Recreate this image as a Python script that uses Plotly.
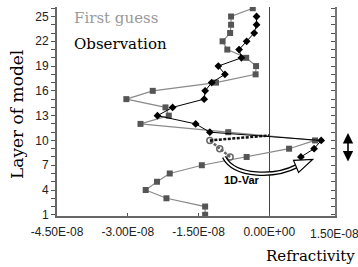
import plotly.graph_objects as go

SCALE = 1e-8

# Model layers (1 = bottom)
layers_fg = [26, 25, 24, 23, 22, 21, 20, 19, 18, 17, 16, 15, 14, 13, 12, 11, 10, 9, 8, 7, 6, 5, 4, 3, 2, 1]
first_guess = [-0.35, -0.81, -0.81, -0.83, -0.99, -0.89, -0.49, -0.28, -0.29, -1.13, -2.47, -3.03, -2.20,
               -2.13, -2.73, -0.87, 0.97, 0.42, -0.48, -1.43, -2.11, -2.38, -2.62, -2.18, -1.36, -1.36]

layers_obs = [25, 24, 23, 22, 21, 20, 19, 18, 17, 16, 15, 14, 13, 12, 11, 10, 9, 8]
observation = [-0.27, -0.27, -0.32, -0.48, -0.64, -0.59, -1.08, -0.94, -1.22, -1.36, -1.38, -2.05,
               -2.37, -1.56, -1.26, 1.10, 0.95, 0.67]

layers_ana = [8, 9, 10]
analysis = [-0.83, -1.05, -1.26]
layers_link = [10, 10.6]
link = [-1.26, 0.0]

x_tickvals = [-4.5, -3.0, -1.5, 0.0]
x_ticktext = ["-4.50E-08", "-3.00E-08", "-1.50E-08", "0.00E+00"]
x_extra_label = "1.50E-08"
y_tickvals = list(range(1, 27))
y_ticktext = [str(v) if (v - 1) % 3 == 0 else "" for v in y_tickvals]

W, H = 358, 267
L, R, T, B = 57, 23, 7, 51
PW, PH = W - L - R, H - T - B


def px(xp):
    return (xp - L) / PW


def py(yp):
    return (H - B - yp) / PH


sc = lambda arr: [v * SCALE for v in arr]

fig = go.Figure()
fig.add_trace(go.Scatter(x=sc(first_guess), y=layers_fg, mode="lines+markers",
                         line=dict(color="#8a8a8a", width=1.2),
                         marker=dict(symbol="square", size=6, color="#555555"),
                         showlegend=False))
fig.add_trace(go.Scatter(x=sc(observation), y=layers_obs, mode="lines+markers",
                         line=dict(color="#000000", width=1),
                         marker=dict(symbol="diamond", size=6, color="#000000"),
                         showlegend=False))
fig.add_trace(go.Scatter(x=sc(analysis), y=layers_ana, mode="lines+markers",
                         line=dict(color="#666666", width=2.5, dash="3px,1.5px"),
                         marker=dict(symbol="circle-open", size=6, color="#666666", line=dict(width=1.5)),
                         showlegend=False))
fig.add_trace(go.Scatter(x=sc(link), y=layers_link, mode="lines",
                         line=dict(color="#111111", width=2.5, dash="3px,1.5px"),
                         showlegend=False))
fig.add_trace(go.Scatter(x=[None], y=[None], yaxis="y2", showlegend=False))

yr = [0.855, 26.15]
fig.update_layout(
    width=W, height=H,
    margin=dict(l=L, r=R, t=T, b=B, autoexpand=False),
    paper_bgcolor="white", plot_bgcolor="white",
    font=dict(family="Liberation Sans", size=12, color="#222222"),
    xaxis=dict(range=[-4.5 * SCALE, 1.393 * SCALE],
               tickvals=sc(x_tickvals), ticktext=x_ticktext,
               ticks="inside", ticklen=3, tickcolor="#555555", ticklabelstandoff=4,
               showline=True, linecolor="#666666", linewidth=2,
               showgrid=False, zeroline=True, zerolinecolor="#444444", zerolinewidth=1.2,
               tickfont=dict(size=12, family="Liberation Sans")),
    yaxis=dict(range=yr, tickvals=y_tickvals, ticktext=y_ticktext,
               ticks="outside", ticklen=4, tickcolor="#555555",
               showline=True, linecolor="#666666", linewidth=2,
               showgrid=False, zeroline=False,
               tickfont=dict(size=12, family="Liberation Sans")),
    yaxis2=dict(range=yr, overlaying="y", side="right", tickvals=y_tickvals,
                showticklabels=False, ticks="inside", ticklen=4, tickcolor="#555555",
                showline=True, linecolor="#777777", linewidth=1.5,
                showgrid=False, zeroline=False),
)

# curved hollow arrow (1D-Var)
p0, c1, c2, p3 = (224, 157), (235, 178), (276, 177), (297, 166)
path = "M {} {} C {} {}, {} {}, {} {}".format(px(p0[0]), py(p0[1]), px(c1[0]), py(c1[1]),
                                              px(c2[0]), py(c2[1]), px(p3[0]), py(p3[1]))
fig.add_shape(type="path", path=path, xref="paper", yref="paper", line=dict(color="black", width=4.5))
fig.add_shape(type="path", path=path, xref="paper", yref="paper", line=dict(color="white", width=1.8))
ux, uy = 0.92, -0.39
nx, ny = 0.39, 0.92
tip = (p3[0] + 17 * ux, p3[1] + 17 * uy)
b1 = (p3[0] - 1 * ux + 6.5 * nx, p3[1] - 1 * uy + 6.5 * ny)
b2 = (p3[0] - 1 * ux - 6.5 * nx, p3[1] - 1 * uy - 6.5 * ny)
head = "M {} {} L {} {} L {} {} Z".format(px(b1[0]), py(b1[1]), px(tip[0]), py(tip[1]), px(b2[0]), py(b2[1]))
fig.add_shape(type="path", path=head, xref="paper", yref="paper",
              fillcolor="white", line=dict(color="black", width=1.2))

ann = []
ann.append(dict(text="1D-Var", x=px(262), y=py(187.5), xref="paper", yref="paper", showarrow=False,
                font=dict(family="Liberation Sans", size=11, color="black", weight="bold")))
ann.append(dict(text="First guess", x=px(72), y=py(18), xref="paper", yref="paper", showarrow=False,
                xanchor="left", yanchor="middle", font=dict(family="DejaVu Serif", size=15, color="#999999")))
ann.append(dict(text="Observation", x=px(72), y=py(44), xref="paper", yref="paper", showarrow=False,
                xanchor="left", yanchor="middle", font=dict(family="DejaVu Serif", size=15, color="#000000")))
ann.append(dict(text="Layer of model", x=px(17), y=py(115), xref="paper", yref="paper", showarrow=False,
                textangle=-90, xanchor="center", yanchor="middle",
                font=dict(family="DejaVu Serif", size=17, color="#000000")))
ann.append(dict(text="Refractivity", x=px(357), y=py(256), xref="paper", yref="paper", showarrow=False,
                xanchor="right", yanchor="middle", font=dict(family="DejaVu Serif", size=15, color="#000000")))
ann.append(dict(text=x_extra_label, x=px(334), y=py(234), xref="paper", yref="paper", showarrow=False,
                xanchor="center", yanchor="middle", font=dict(family="Liberation Sans", size=12, color="#222222")))
ann.append(dict(text="", x=px(348), y=py(133), xref="paper", yref="paper", showarrow=True,
                ax=0, ay=30, arrowside="end+start", arrowhead=2, arrowsize=1.3, arrowwidth=1.6,
                arrowcolor="black"))
fig.update_layout(annotations=ann)

fig.write_html("out.html", config={"displayModeBar": False},
               post_script="document.body.style.margin='0';document.body.style.overflow='hidden';")
